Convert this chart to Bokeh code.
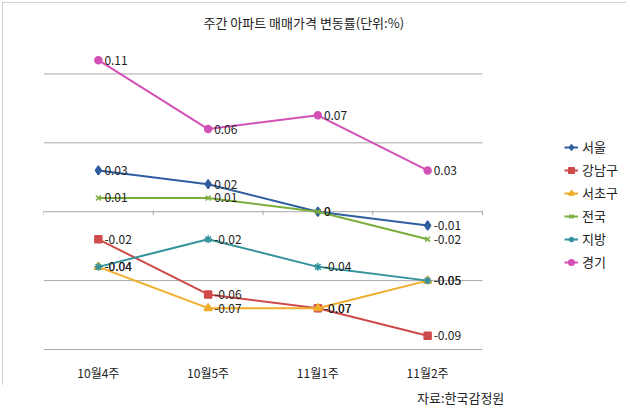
from bokeh.plotting import figure
from bokeh.models import ColumnDataSource, FixedTicker, Legend, LegendItem, Div
from bokeh.layouts import column
from bokeh.core.properties import value
from bokeh.embed import file_html
from bokeh.resources import INLINE

categories = ["10월4주", "10월5주", "11월1주", "11월2주"]
series_names = ["서울", "강남구", "서초구", "전국", "지방", "경기"]
seoul = [0.03, 0.02, 0.0, -0.01]
gangnam = [-0.02, -0.06, -0.07, -0.09]
seocho = [-0.04, -0.07, -0.07, -0.05]
national = [0.01, 0.01, 0.0, -0.02]
regions = [-0.04, -0.02, -0.04, -0.05]
gyeonggi = [0.11, 0.06, 0.07, 0.03]
grid_values = [-0.1, -0.05, 0.0, 0.05, 0.1]
title_text = "주간 아파트 매매가격 변동률(단위:%)"
source_text = "자료:한국감정원"

all_series = [seoul, gangnam, seocho, national, regions, gyeonggi]
colors = ["#2f5d9e", "#cf4a4a", "#f0ac2a", "#7aad3a", "#33929c", "#d251b6"]
markers = ["diamond", "square", "triangle", "x", "asterisk", "circle"]
msizes = [9, 7, 8, 7, 8, 7]

FONT = "Noto Sans CJK KR"
GRID = "#a8a8a8"

ncat = len(categories)
xs = [i + 0.5 for i in range(ncat)]

p = figure(width=624, height=383, x_range=(0, 5.312), y_range=(-0.10144, 0.125),
           output_backend="svg", toolbar_location=None,
           min_border_left=41, min_border_right=0, min_border_top=34, min_border_bottom=34)
p.styles = {"outline": "1px solid #c4c4c4", "outline-offset": "-1px",
            "margin-left": "2px", "margin-top": "2px"}
p.outline_line_color = None
p.background_fill_color = "white"
p.border_fill_color = "white"

p.title.text = title_text
p.title.align = "left"
p.title.offset = 160
p.title.standoff = 16
p.title.text_font = FONT
p.title.text_font_size = "13px"
p.title.text_font_style = "normal"
p.title.text_color = "#222222"

p.yaxis.visible = False
p.xgrid.visible = False
p.ygrid.visible = False

p.xaxis.ticker = FixedTicker(ticks=xs)
p.xaxis.major_label_overrides = {x: c for x, c in zip(xs, categories)}
p.xaxis.axis_line_color = None
p.xaxis.major_tick_line_color = None
p.xaxis.minor_tick_line_color = None
p.xaxis.major_tick_out = 0
p.xaxis.major_tick_in = 0
p.xaxis.minor_tick_out = 0
p.xaxis.major_label_standoff = 12
p.xaxis.major_label_text_font = FONT
p.xaxis.major_label_text_font_size = "12px"
p.xaxis.major_label_text_color = "#222222"

# horizontal gridlines spanning only the category area
p.segment(x0=[0] * len(grid_values), x1=[ncat] * len(grid_values), y0=grid_values, y1=grid_values,
          line_color=GRID, line_width=1)
# tick marks on the zero line at category boundaries
bounds = list(range(ncat + 1))
p.segment(x0=bounds, x1=bounds, y0=[0.0008] * len(bounds), y1=[-0.0025] * len(bounds),
          line_color=GRID, line_width=1)

items = []
for name, vals, col, mk, ms in zip(series_names, all_series, colors, markers, msizes):
    src = ColumnDataSource(dict(x=xs, y=vals, lbl=[("%g" % v) if v != 0 else "0" for v in vals]))
    ln = p.line("x", "y", source=src, line_color=col, line_width=2)
    sc = p.scatter("x", "y", source=src, marker=mk, size=ms, fill_color=col, line_color=col, line_width=1.5)
    p.text("x", "y", text="lbl", source=src, x_offset=6, text_baseline="middle",
           text_font=value(FONT), text_font_size="12px", text_color="#222222")
    items.append(LegendItem(label=name, renderers=[ln, sc]))

legend = Legend(items=items, location=(521, 80), orientation="vertical",
                glyph_width=14, glyph_height=16, label_height=16, spacing=4, padding=0, margin=0,
                label_text_font=FONT, label_text_font_size="13px", label_text_color="#222222",
                label_standoff=4, border_line_color=None, background_fill_alpha=0)
p.add_layout(legend, "center")

div = Div(text=source_text, width=620, height=16,
          styles={"font-family": FONT, "font-size": "13px", "color": "#222222",
                  "padding-left": "412px", "line-height": "16px", "margin-top": "5px"})

layout = column(p, div, spacing=0)
open("out.html", "w").write(file_html(layout, INLINE))
